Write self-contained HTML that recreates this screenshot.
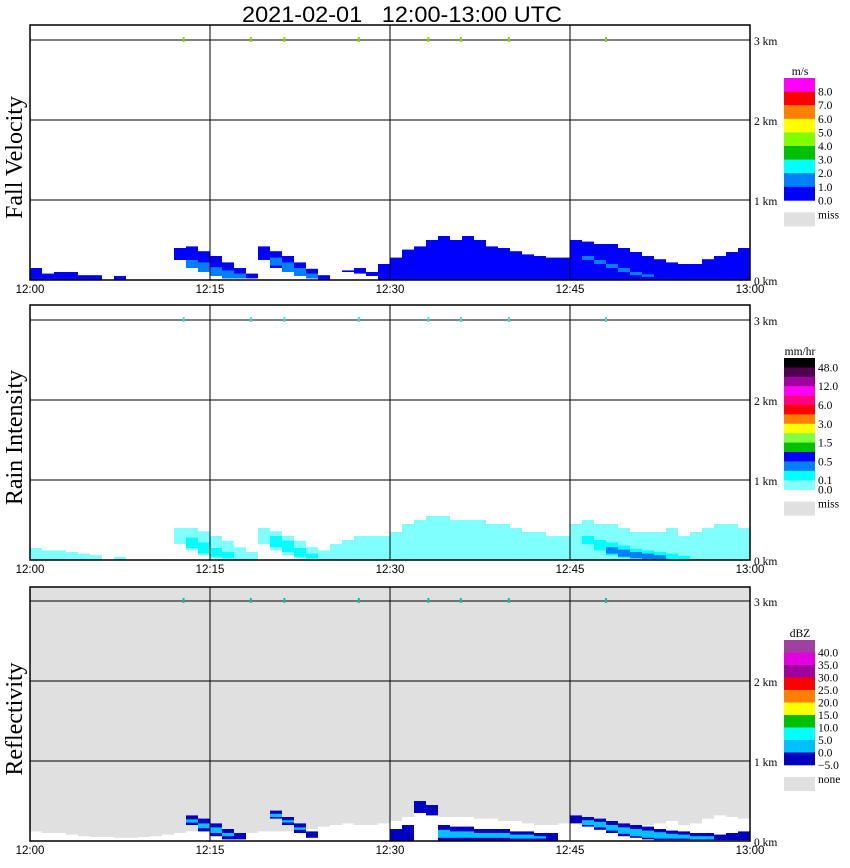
<!DOCTYPE html>
<html><head><meta charset="utf-8">
<style>
html,body{margin:0;padding:0;background:#fff;}
svg{display:block;font-family:"Liberation Serif",serif;}
.ax{font-size:11.5px;}
</style></head>
<body>
<svg id="chart" width="850" height="868" viewBox="0 0 850 868">
<text x="402" y="22" text-anchor="middle" font-family="Liberation Sans, sans-serif" font-size="22" style="white-space:pre" textLength="320" lengthAdjust="spacingAndGlyphs">2021-02-01   12:00-13:00 UTC</text>
</svg>
<script>
// ---- data ----
const timeLabels = ["12:00","12:15","12:30","12:45","13:00"];
const heightLabels = ["0 km","1 km","2 km","3 km"];
const tickMinutes = [12.8,18.4,21.2,27.4,33.2,35.9,39.9,48.0];

const fvTop = [0.15,0.08,0.1,0.1,0.06,0.06,0,0.05,0,0,0,0,
  0.4,0.42,0.36,0.3,0.22,0.15,0.08,0.42,0.36,0.3,0.22,0.14,
  0.06,0.08,0.12,0.15,0.1,0.2,0.28,0.38,0.42,0.5,0.55,0.5,
  0.55,0.5,0.42,0.4,0.36,0.32,0.3,0.28,0.28,0.5,0.48,0.45,
  0.45,0.4,0.35,0.3,0.26,0.22,0.2,0.2,0.26,0.3,0.35,0.4];
const fvBot = [0,0,0,0,0,0,0,0,0,0,0,0,
  0.25,0.2,0.12,0.06,0.02,0.02,0.02,0.25,0.15,0.1,0.05,0.02,
  0,0.08,0.1,0.08,0.05,0,0,0,0,0,0,0,
  0,0,0,0,0,0,0,0,0,0,0,0,
  0,0,0,0,0,0,0,0,0,0,0,0];
const fvCoreTop = [0,0,0,0,0,0,0,0,0,0,0,0,
  0,0.25,0.22,0.16,0.12,0.08,0,0,0.28,0.22,0.15,0.08,
  0,0,0,0,0,0,0,0,0,0,0,0,
  0,0,0,0,0,0,0,0,0,0,0.3,0.25,
  0.2,0.15,0.1,0.07,0,0,0,0,0,0,0,0];
const fvCoreBot = [0,0,0,0,0,0,0,0,0,0,0,0,
  0,0.15,0.1,0.05,0.02,0.02,0,0,0.18,0.1,0.05,0.02,
  0,0,0,0,0,0,0,0,0,0,0,0,
  0,0,0,0,0,0,0,0,0,0,0.25,0.2,
  0.15,0.1,0.06,0.04,0,0,0,0,0,0,0,0];

const riTop = [0.15,0.12,0.12,0.1,0.08,0.06,0,0.04,0,0,0,0,
  0.4,0.4,0.36,0.3,0.24,0.16,0.1,0.4,0.36,0.3,0.24,0.16,
  0.12,0.2,0.25,0.3,0.3,0.3,0.35,0.45,0.5,0.55,0.55,0.5,
  0.5,0.5,0.45,0.45,0.4,0.35,0.35,0.3,0.3,0.45,0.5,0.45,
  0.45,0.4,0.35,0.35,0.35,0.4,0.3,0.35,0.4,0.45,0.45,0.4];
const riBot = [0,0,0,0,0,0,0,0,0,0,0,0,
  0.2,0.12,0.06,0.02,0,0,0,0.2,0.12,0.06,0.02,0,
  0,0,0,0,0,0,0,0,0,0,0,0,
  0,0,0,0,0,0,0,0,0,0,0,0,
  0,0,0,0,0,0,0,0,0,0,0,0];
const riCoreTop = [0,0,0,0,0,0,0,0,0,0,0,0,
  0,0.28,0.22,0.15,0.1,0,0,0,0.3,0.24,0.15,0.08,
  0,0,0,0,0,0,0,0,0,0,0,0,
  0,0,0,0,0,0,0,0,0,0,0.3,0.25,
  0.22,0.18,0.14,0.12,0.1,0.08,0.05,0,0,0,0,0];
const riCoreBot = [0,0,0,0,0,0,0,0,0,0,0,0,
  0,0.15,0.08,0.04,0.02,0,0,0,0.16,0.1,0.04,0.02,
  0,0,0,0,0,0,0,0,0,0,0,0,
  0,0,0,0,0,0,0,0,0,0,0.2,0.12,
  0.06,0.03,0.02,0,0,0,0,0,0,0,0,0];
const riHeavyTop = [0,0,0,0,0,0,0,0,0,0,0,0,0,0,0,0,0,0,0,0,0,0,0,0,
  0,0,0,0,0,0,0,0,0,0,0,0,0,0,0,0,0,0,0,0,0,0,0,0,
  0.16,0.13,0.1,0.08,0.06,0,0,0,0,0,0,0];
const riHeavyBot = [0,0,0,0,0,0,0,0,0,0,0,0,0,0,0,0,0,0,0,0,0,0,0,0,
  0,0,0,0,0,0,0,0,0,0,0,0,0,0,0,0,0,0,0,0,0,0,0,0,
  0.08,0.04,0.02,0.01,0.01,0,0,0,0,0,0,0];

const rfWhiteTop = [0.12,0.1,0.1,0.08,0.06,0.05,0.05,0.04,0.04,0.05,0.06,0.08,
  0.1,0.12,0.12,0.12,0.1,0.1,0.1,0.12,0.12,0.12,0.1,0.15,
  0.18,0.2,0.22,0.2,0.2,0.22,0.25,0.3,0.35,0.35,0.3,0.3,
  0.3,0.28,0.28,0.25,0.25,0.22,0.2,0.2,0.22,0.3,0.3,0.28,
  0.25,0.22,0.2,0.2,0.22,0.25,0.2,0.22,0.28,0.32,0.3,0.28];
const rfTop = [0,0,0,0,0,0,0,0,0,0,0,0,
  0,0.32,0.28,0.22,0.15,0.1,0,0,0.38,0.3,0.22,0.12,
  0,0,0,0,0,0,0.15,0.2,0.5,0.45,0.2,0.18,
  0.18,0.15,0.15,0.15,0.12,0.12,0.1,0.1,0,0.32,0.3,0.28,
  0.25,0.22,0.2,0.18,0.15,0.13,0.12,0.1,0.1,0.08,0.1,0.12];
const rfBot = [0,0,0,0,0,0,0,0,0,0,0,0,
  0,0.2,0.12,0.06,0.02,0.02,0,0,0.28,0.2,0.1,0.04,
  0,0,0,0,0,0,0,0,0.35,0.32,0,0,
  0,0,0,0,0,0,0,0,0,0.22,0.18,0.14,
  0.1,0.06,0.04,0.02,0.01,0.01,0.01,0.01,0.01,0.01,0.01,0.01];
const rfCoreTop = [0,0,0,0,0,0,0,0,0,0,0,0,
  0,0.27,0.22,0.17,0.1,0,0,0,0.34,0.26,0.17,0,
  0,0,0,0,0,0,0,0,0,0,0.14,0.12,
  0.12,0.1,0.1,0.1,0.08,0.08,0.06,0,0,0,0.26,0.24,
  0.2,0.17,0.15,0.13,0.11,0.09,0.08,0.06,0.06,0,0,0];
const rfCoreBot = [0,0,0,0,0,0,0,0,0,0,0,0,
  0,0.23,0.16,0.1,0.06,0,0,0,0.3,0.23,0.14,0,
  0,0,0,0,0,0,0,0,0,0,0.04,0.04,
  0.04,0.04,0.04,0.04,0.03,0.03,0.03,0,0,0,0.2,0.17,
  0.13,0.09,0.06,0.04,0.03,0.03,0.03,0.02,0.02,0,0,0];

const fvLegendColors = ["#ff00ff","#ff0000","#ff8000","#ffff00","#80ff00","#00c000","#00ffff","#0080ff","#0000ff"];
const fvLegendLabels = ["8.0","7.0","6.0","5.0","4.0","3.0","2.0","1.0","0.0"];
const riLegendColors = ["#000000","#500050","#a000a0","#ff00ff","#ff0080","#ff0000","#ff8000","#ffff00","#80ff40","#00c000","#0000ff","#0080ff","#00ffff","#80ffff"];
const riLegendLabels = ["48.0","","12.0","","6.0","","3.0","","1.5","","0.5","","0.1","0.0"];
const rfLegendColors = ["#a040a0","#e000e0","#a000a0","#ff0000","#ff8000","#ffff00","#00c000","#00ffff","#00c0ff","#0000c0"];
const rfLegendLabels = ["40.0","35.0","30.0","25.0","20.0","15.0","10.0","5.0","0.0","\u22125.0"];

// ---- rendering ----
const svg = document.getElementById('chart');
const NS = 'http://www.w3.org/2000/svg';
const X0 = 30, X1 = 750, PXKM = 80;
function xs(m){ return X0 + (X1 - X0) * m / 60; }
function mk(tag, attrs, parent){
  const e = document.createElementNS(NS, tag);
  for (const k in attrs) e.setAttribute(k, attrs[k]);
  (parent || svg).appendChild(e);
  return e;
}

const panels = [
  {y0:280, top:25, bg:'#ffffff', tickColor:'#80e000', title:'Fall Velocity', name:'fall-velocity',
   layers:[[fvTop,fvBot,'#0000ff'],[fvCoreTop,fvCoreBot,'#0080ff']],
   lc:fvLegendColors, ll:fvLegendLabels, unit:'m/s', ly:78, lh:13.6, miss:'miss'},
  {y0:560, top:305, bg:'#ffffff', tickColor:'#40e0e0', title:'Rain Intensity', name:'rain-intensity',
   layers:[[riTop,riBot,'#80ffff'],[riCoreTop,riCoreBot,'#00ffff'],[riHeavyTop,riHeavyBot,'#0080ff']],
   lc:riLegendColors, ll:riLegendLabels, unit:'mm/hr', ly:358, lh:9.4, miss:'miss'},
  {y0:841, top:587, bg:'#e0e0e0', tickColor:'#00c0c0', title:'Reflectivity', name:'reflectivity',
   layers:[[rfWhiteTop,null,'#ffffff'],[rfTop,rfBot,'#0000c0'],[rfCoreTop,rfCoreBot,'#00c0ff']],
   lc:rfLegendColors, ll:rfLegendLabels, unit:'dBZ', ly:640, lh:12.5, miss:'none'}
];

panels.forEach((p, pi) => {
  const g = mk('g', {});
  
  
  function ys(km){ return p.y0 - km * PXKM; }
  const bg = mk('rect', {x:X0, y:p.top, width:X1-X0, height:p.y0-p.top, fill:p.bg}, g);
  
  
  p.layers.forEach((L, li) => {
    const tops = L[0], bots = L[1];
    for (let m = 0; m < tops.length; m++) {
      const t = tops[m], b = bots ? bots[m] : 0;
      if (t <= b) continue;
      const r = mk('rect', {x:xs(m), y:ys(t), width:xs(m+1)-xs(m), height:ys(b)-ys(t), fill:L[2]}, g);
      
      
    }
  });
  for (let k = 1; k <= 3; k++) {
    mk('line', {x1:X0, x2:X1, y1:ys(k), y2:ys(k), stroke:'#000', 'stroke-width':1}, g);
  }
  for (let i = 1; i < timeLabels.length - 1; i++) {
    mk('line', {x1:xs(i*15), x2:xs(i*15), y1:p.top, y2:p.y0, stroke:'#000', 'stroke-width':1}, g);
  }
  mk('rect', {x:X0, y:p.top, width:X1-X0, height:p.y0-p.top, fill:'none', stroke:'#000', 'stroke-width':1.5}, g);
  tickMinutes.forEach(tm => {
    const t = mk('rect', {x:xs(tm)-1, y:ys(3)-3, width:2, height:5, fill:p.tickColor}, g);
    
    
  });
  timeLabels.forEach((lab, i) => {
    const t = mk('text', {x:xs(i*15), y:p.y0+13, 'text-anchor':'middle', class:'ax', 'font-family':'Liberation Sans, sans-serif'}, g);
    t.textContent = lab;
    
    
  });
  heightLabels.forEach((lab, k) => {
    const t = mk('text', {x:754, y:ys(k)+5, class:'ax'}, g);
    t.textContent = lab;
    
    
  });
  const cy = (p.top + p.y0) / 2 + 5;
  const yt = mk('text', {x:0, y:0, transform:'translate(22,'+cy+') rotate(-90)', 'text-anchor':'middle', 'font-size':'24'}, g);
  yt.textContent = p.title;
  
  
  const u = mk('text', {x:800, y:p.ly-3, 'text-anchor':'middle', class:'ax'}, g);
  u.textContent = p.unit;
  
  
  p.lc.forEach((c, i) => {
    const r = mk('rect', {x:784, y:p.ly + i*p.lh, width:31, height:p.lh+0.3, fill:c}, g);
    
    
    if (p.ll[i]) {
      const t = mk('text', {x:818, y:p.ly + (i+1)*p.lh + 4, class:'ax'}, g);
      t.textContent = p.ll[i];
      
      
    }
  });
  const endY = p.ly + p.lc.length * p.lh;
  const mr = mk('rect', {x:784, y:endY+12, width:31, height:14, fill:'#e0e0e0'}, g);
  
  
  const mt = mk('text', {x:818, y:endY+18, class:'ax'}, g);
  mt.textContent = p.miss;
  
  
});
</script>
</body></html>
